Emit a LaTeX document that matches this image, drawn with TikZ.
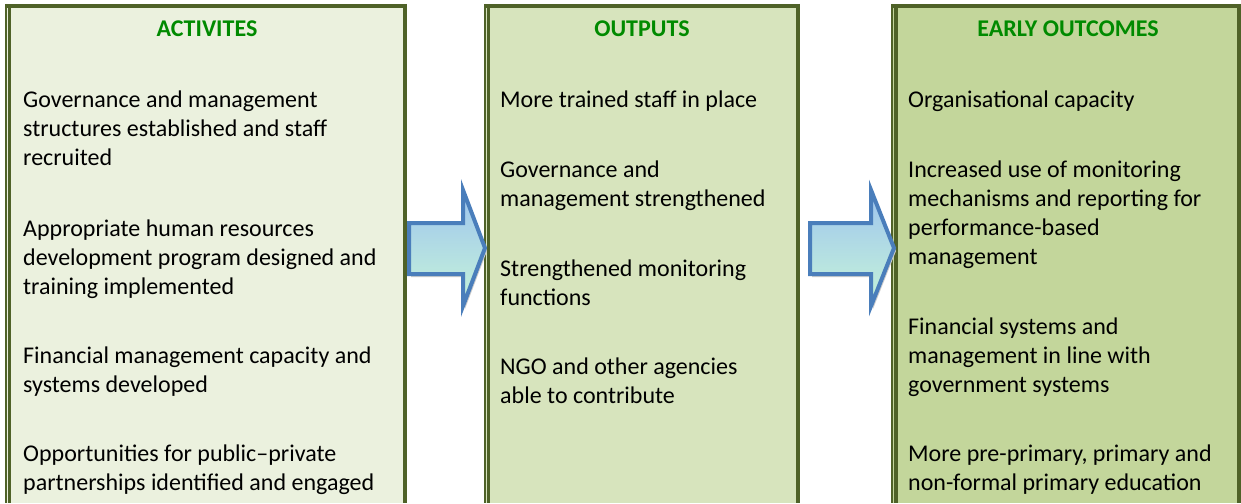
\documentclass[tikz,border=0pt]{standalone}
\usepackage{fontspec}
\setmainfont{Carlito}
\definecolor{boxA}{HTML}{EBF1DE}
\definecolor{boxB}{HTML}{D7E4BD}
\definecolor{boxC}{HTML}{C3D69B}
\definecolor{edge}{HTML}{4F6228}
\definecolor{titlegreen}{HTML}{008A00}
\definecolor{arrowline}{HTML}{4A7EBB}
\definecolor{arrowtop}{HTML}{9EC4EF}
\definecolor{arrowbot}{HTML}{C6F5D8}
\begin{document}
\begin{tikzpicture}[x=1pt,y=-1pt,
  body/.style={anchor=base west, inner sep=0pt, align=left, font=\fontsize{24}{29}\selectfont, text=black},
  title/.style={anchor=base, inner sep=0pt, font=\fontsize{24}{29}\selectfont\bfseries, text=titlegreen},
  thickedge/.style={draw=edge, line width=4pt},
  thinedge/.style={draw=edge, line width=1.2pt},
  bigarrow/.style={draw=arrowline, line width=4pt, line join=miter, top color=arrowtop, bottom color=arrowbot},
  arrowshadow/.style={fill=black!20}
]
\useasboundingbox (0,0) rectangle (1241,503);
\fill[white] (0,0) rectangle (1241,503);

% ---- box 1
\fill[boxA] (6,6) rectangle (405,503);
\draw[thinedge] (6,4) -- (6,503);
\draw[draw=edge, line width=3.5pt] (9.6,6) -- (9.6,503);
\draw[thickedge] (5.4,6) -- (407,6);
\draw[thickedge] (405,4) -- (405,503);
\coordinate (boxa) at (207,250);

% ---- box 2
\fill[boxB] (485,6) rectangle (797.5,503);
\draw[thinedge] (485,4) -- (485,503);
\draw[draw=edge, line width=3.5pt] (488.6,6) -- (488.6,503);
\draw[thickedge] (484.4,6) -- (799.5,6);
\draw[thickedge] (797.5,4) -- (797.5,503);
\coordinate (boxb) at (642,250);

% ---- box 3
\fill[boxC] (892,6) rectangle (1239,503);
\draw[thinedge] (892,4) -- (892,503);
\draw[draw=edge, line width=3.5pt] (895.8,6) -- (895.8,503);
\draw[thickedge] (891.4,6) -- (1241,6);
\draw[thickedge] (1239,4) -- (1239,503);
\coordinate (boxc) at (1067,250);

% ---- titles
\node[title] (ta) at (207,37) {ACTIVITES};
\node[title] (tb) at (642,37) {OUTPUTS};
\node[title] (tc) at (1068,37) {EARLY OUTCOMES};

% ---- column 1 (anchor = baseline of last line)
\node[body] (a1) at (23,165) {Governance and management\\structures established and staff\\recruited};
\node[body] (a2) at (23,294) {Appropriate human resources\\development program designed and\\training implemented};
\node[body] (a3) at (23,392) {Financial management capacity and\\systems developed};
\node[body] (a4) at (23,490) {Opportunities for public--private\\partnerships identified and engaged};

% ---- column 2
\node[body] (b1) at (500,107) {More trained staff in place};
\node[body] (b2) at (500,206) {Governance and\\management strengthened};
\node[body] (b3) at (500,305) {Strengthened monitoring\\functions};
\node[body] (b4) at (500,403) {NGO and other agencies\\able to contribute};

% ---- column 3
\node[body] (c1) at (908,107) {Organisational capacity};
\node[body] (c2) at (908,264) {Increased use of monitoring\\mechanisms and reporting for\\performance-based\\management};
\node[body] (c3) at (908,392) {Financial systems and\\management in line with\\government systems};
\node[body] (c4) at (908,490) {More pre-primary, primary and\\non-formal primary education};

% ---- arrows
\fill[arrowshadow] (411,226) -- (465,226) -- (465,193) -- (487,251) -- (465,309) -- (465,277) -- (411,277) -- cycle;
\path[bigarrow] (409,223) -- (463,223) -- (463,190) -- (485,248) -- (463,306) -- (463,274) -- (409,274) -- cycle;
\fill[arrowshadow] (812,226) -- (873,226) -- (873,193) -- (896,251) -- (873,309) -- (873,277) -- (812,277) -- cycle;
\path[bigarrow] (810,223) -- (871,223) -- (871,190) -- (894,248) -- (871,306) -- (871,274) -- (810,274) -- cycle;
\end{tikzpicture}
\end{document}
